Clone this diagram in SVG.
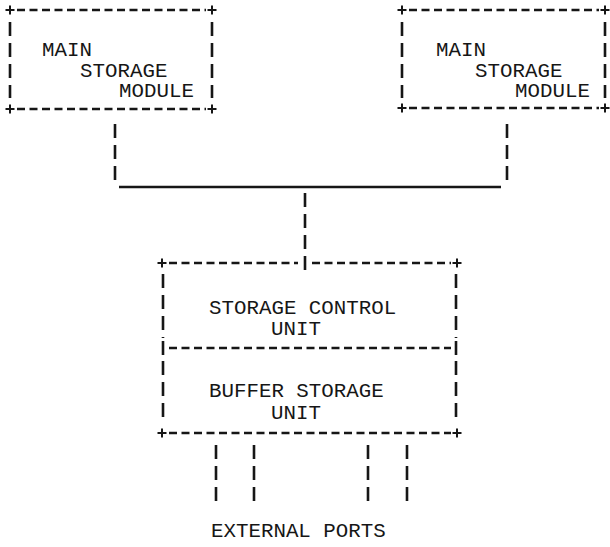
<svg xmlns="http://www.w3.org/2000/svg" width="610" height="547" viewBox="0 0 610 547">
<style>
.t{font-family:"Liberation Mono","DejaVu Sans Mono",monospace;font-size:20.8px;fill:#161616}
.h{stroke:#161616;stroke-width:2.6;stroke-dasharray:8 4.5;fill:none}
.v{stroke:#161616;stroke-width:2.6;stroke-dasharray:14 7;fill:none}
.s{stroke:#161616;stroke-width:2.6;fill:none}
.p{stroke:#161616;stroke-width:2;fill:none}
</style>
<defs>
<path id="plus" class="p" d="M-4.5 0H4.5M0 -4.5V4.5"/>
</defs>
<rect width="610" height="547" fill="#fff"/>

<g id="msm-left">
  <use href="#plus" x="10" y="10"/><use href="#plus" x="212" y="10"/>
  <use href="#plus" x="10" y="109"/><use href="#plus" x="212" y="109"/>
  <line class="h" x1="17" y1="10" x2="206" y2="10"/>
  <line class="h" x1="17" y1="109" x2="206" y2="109"/>
  <line class="v" x1="10" y1="22" x2="10" y2="98"/>
  <line class="v" x1="212" y1="22" x2="212" y2="98"/>
  <text class="t" x="42" y="56">MAIN</text>
  <text class="t" x="80" y="77">STORAGE</text>
  <text class="t" x="119" y="97">MODULE</text>
</g>

<g id="msm-right">
  <use href="#plus" x="402" y="10"/><use href="#plus" x="605" y="10"/>
  <use href="#plus" x="402" y="108"/><use href="#plus" x="605" y="108"/>
  <line class="h" x1="409" y1="10" x2="599" y2="10"/>
  <line class="h" x1="409" y1="108" x2="599" y2="108"/>
  <line class="v" x1="402" y1="22" x2="402" y2="98"/>
  <line class="v" x1="605" y1="22" x2="605" y2="98"/>
  <text class="t" x="436" y="56">MAIN</text>
  <text class="t" x="475" y="77">STORAGE</text>
  <text class="t" x="515" y="97">MODULE</text>
</g>

<g id="connectors">
  <line class="v" x1="115" y1="124" x2="115" y2="187"/>
  <line class="v" x1="507" y1="124" x2="507" y2="187"/>
  <line class="s" x1="119" y1="187" x2="501" y2="187"/>
  <line class="v" x1="305" y1="193" x2="305" y2="270"/>
  <line class="v" x1="216" y1="445" x2="216" y2="506"/>
  <line class="v" x1="254" y1="445" x2="254" y2="506"/>
  <line class="v" x1="368" y1="445" x2="368" y2="506"/>
  <line class="v" x1="407" y1="445" x2="407" y2="506"/>
</g>

<g id="scu">
  <use href="#plus" x="162" y="263"/><use href="#plus" x="457" y="263"/>
  <line class="h" x1="169" y1="263" x2="298" y2="263"/>
  <line class="h" x1="312" y1="263" x2="451" y2="263"/>
  <line class="v" x1="163" y1="274" x2="163" y2="338"/>
  <line class="v" x1="456" y1="274" x2="456" y2="338"/>
  <text class="t" x="209" y="314">STORAGE CONTROL</text>
  <text class="t" x="271" y="335">UNIT</text>
</g>

<g id="bsu">
  <line class="s" x1="163" y1="341" x2="163" y2="355"/>
  <line class="s" x1="456" y1="341" x2="456" y2="355"/>
  <line class="h" x1="169" y1="348" x2="451" y2="348"/>
  <line class="v" x1="163" y1="361" x2="163" y2="424"/>
  <line class="v" x1="456" y1="361" x2="456" y2="424"/>
  <use href="#plus" x="162" y="433"/><use href="#plus" x="457" y="433"/>
  <line class="h" x1="169" y1="433" x2="451" y2="433"/>
  <text class="t" x="209" y="397">BUFFER STORAGE</text>
  <text class="t" x="271" y="419">UNIT</text>
</g>

<g id="external-ports">
  <text class="t" x="211" y="537">EXTERNAL PORTS</text>
</g>
</svg>
